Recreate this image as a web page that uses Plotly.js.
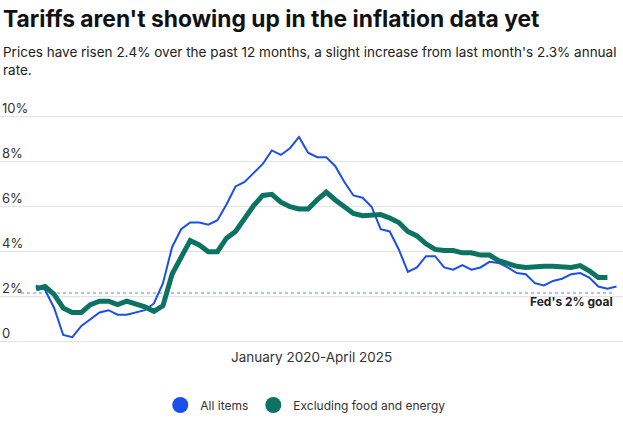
<!DOCTYPE html>
<html>
<head>
<meta charset="utf-8">
<script src="https://cdn.plot.ly/plotly-3.0.1.min.js"></script>
<style>html,body{margin:0;padding:0;background:#fff;}#chart{width:623px;height:435px;}</style>
</head>
<body>
<div id="chart"></div>
<script>
// Monthly CPI, 12-month % change
var startYear = 2020;
var allItems = [
  2.5, 2.3, 1.5, 0.3, 0.2, 0.7, 1.0, 1.3, 1.4, 1.2, 1.2, 1.3,
  1.4, 1.7, 2.6, 4.2, 5.0, 5.3, 5.3, 5.2, 5.4, 6.1, 6.9, 7.1,
  7.5, 7.9, 8.5, 8.3, 8.6, 9.1, 8.4, 8.2, 8.2, 7.8, 7.1, 6.5,
  6.4, 6.0, 5.0, 4.9, 4.1, 3.1, 3.3, 3.8, 3.8, 3.3, 3.2, 3.4,
  3.2, 3.3, 3.55, 3.5, 3.3, 3.05, 3.0, 2.6, 2.5, 2.7, 2.8, 3.0,
  3.05, 2.85, 2.45, 2.35, 2.45
];
var coreItems = [
  2.35, 2.45, 2.1, 1.5, 1.3, 1.3, 1.65, 1.8, 1.8, 1.65, 1.8, 1.7,
  1.55, 1.35, 1.6, 3.0, 3.8, 4.5, 4.3, 4.0, 4.0, 4.6, 4.9, 5.45,
  6.05, 6.5, 6.55, 6.2, 6.0, 5.9, 5.9, 6.3, 6.65, 6.3, 6.0, 5.7,
  5.6, 5.6, 5.65, 5.5, 5.3, 4.9, 4.7, 4.35, 4.1, 4.05, 4.05, 3.95,
  3.95, 3.85, 3.85, 3.6, 3.45, 3.35, 3.3, 3.35, 3.35, 3.35, 3.35, 3.3,
  3.38, 3.15, 2.85, 2.85
];
var seriesNames = ['All items', 'Excluding food and energy'];
var seriesColors = ['#1a50ea', '#0c7363'];
var yTicks = [0, 2, 4, 6, 8, 10];
var yTickLabels = ['0', '2%', '4%', '6%', '8%', '10%'];
var fedGoal = 2.17;
var fedLabel = "Fed's 2% goal";
var periodLabel = 'January 2020-April 2025';
var titleText = "Tariffs aren't showing up in the inflation data yet";
var subtitleText = "Prices have risen 2.4% over the past 12 months, a slight increase from last month's 2.3% annual<br>rate.";

function monthLabels(n) {
  var out = [];
  for (var i = 0; i < n; i++) {
    var y = startYear + Math.floor(i / 12);
    var m = (i % 12) + 1;
    out.push(y + '-' + (m < 10 ? '0' + m : m));
  }
  return out;
}
function idx(arr) { return arr.map(function (_, i) { return i; }); }

var FONT = 'Inter, "Open Sans", sans-serif';
var W = 623, H = 435, mt = 112, mb = 88;
var ph = H - mt - mb;
function py(p) { return (H - mb - p) / ph; }
function px(p) { return p / W; }

var traces = [
  {x: idx(allItems), y: allItems, text: monthLabels(allItems.length), type: 'scatter', mode: 'lines',
   line: {color: seriesColors[0], width: 2}, showlegend: false, name: seriesNames[0], hoverinfo: 'text+y'},
  {x: idx(coreItems), y: coreItems, text: monthLabels(coreItems.length), type: 'scatter', mode: 'lines',
   line: {color: seriesColors[1], width: 5}, showlegend: false, name: seriesNames[1], hoverinfo: 'text+y'},
  {x: [null], y: [null], type: 'scatter', mode: 'markers', name: seriesNames[0],
   marker: {color: seriesColors[0], size: 16, symbol: 'circle'}},
  {x: [null], y: [null], type: 'scatter', mode: 'markers', name: seriesNames[1],
   marker: {color: seriesColors[1], size: 16, symbol: 'circle'}}
];

var annotations = yTicks.map(function (v, i) {
  return {xref: 'paper', yref: 'y', x: 0, y: v, xanchor: 'left', yanchor: 'middle', yshift: 8.5,
          text: yTickLabels[i], showarrow: false, font: {family: FONT, size: 13, color: '#333'}};
});
annotations.push({xref: 'paper', yref: 'paper', x: px(1), y: py(61), xanchor: 'left', yanchor: 'middle',
  align: 'left', text: subtitleText, showarrow: false, font: {family: FONT, size: 13.5, color: '#222'}});
annotations.push({xref: 'paper', yref: 'y', x: px(615), y: fedGoal, yshift: -9, xanchor: 'right', yanchor: 'middle',
  text: '<b>' + fedLabel + '</b>', showarrow: false, font: {family: FONT, size: 12, color: '#222'}});
annotations.push({xref: 'paper', yref: 'paper', x: px(311), y: py(357), xanchor: 'center', yanchor: 'middle',
  text: periodLabel, showarrow: false, font: {family: FONT, size: 13.5, color: '#333'}});

var layout = {
  width: W, height: H,
  margin: {l: 0, r: 0, t: mt, b: mb, pad: 0},
  paper_bgcolor: '#fff', plot_bgcolor: '#fff',
  title: {text: '<b>' + titleText + '</b>', x: px(3), xanchor: 'left', xref: 'paper',
          y: 1 - 19 / H, yanchor: 'middle', yref: 'container',
          font: {family: FONT, size: 22.8, color: '#111'}},
  xaxis: {range: [-36 / 9.07, (W - 36) / 9.07], showgrid: false, zeroline: false, showline: false,
          showticklabels: false, ticks: '', fixedrange: true},
  yaxis: {range: [-(H - mb - 341.7) / 22.5, (341.7 - mt) / 22.5], tickvals: yTicks, showticklabels: false,
          showgrid: true, gridcolor: '#e3e3e3', gridwidth: 1, zeroline: false, showline: false, ticks: '', fixedrange: true},
  shapes: [
    {type: 'line', xref: 'paper', yref: 'y', x0: 0, x1: 1, y0: 2, y1: 2, line: {color: '#cfdcf3', width: 1}, layer: 'below'},
    {type: 'line', xref: 'paper', yref: 'y', x0: px(21), x1: px(615), y0: fedGoal, y1: fedGoal,
     line: {color: '#8fb1e6', width: 1.5, dash: '3px,3px'}, layer: 'below'}
  ],
  annotations: annotations,
  showlegend: true,
  legend: {orientation: 'h', x: 0.49, xanchor: 'center', y: py(405), yanchor: 'middle',
           font: {family: FONT, size: 12, color: '#333'}, bgcolor: 'rgba(0,0,0,0)', itemclick: false}
};

Plotly.newPlot('chart', traces, layout, {displayModeBar: false, staticPlot: true});
</script>
</body>
</html>
